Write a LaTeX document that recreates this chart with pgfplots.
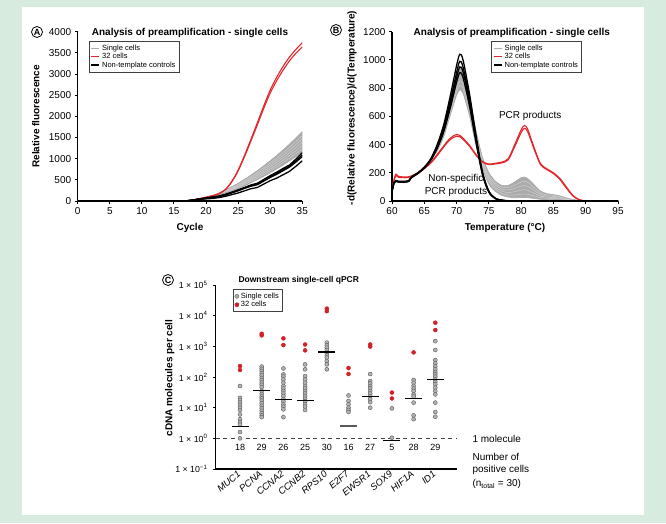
\documentclass[border=0pt]{standalone}
\usepackage{fontspec}
\setmainfont{Liberation Sans}
\usepackage{pgfplots}
\pgfplotsset{compat=1.18}
\usepackage{pgfplotstable}

\definecolor{bggreen}{HTML}{D8EBDF}
\definecolor{redline}{HTML}{E3262B}
\definecolor{reddot}{HTML}{D32027}
\definecolor{grayline}{HTML}{ABABAB}
\definecolor{graylite}{HTML}{D2D2D2}

\pgfplotstableread{
c g1 g2 g3 g4 g5 g6 g7 b1 b2 b3 b4 r1 r2
0 0 0 0 0 0 0 0 0 0 0 0 0 0
15 0 0 0 0 0 0 0 0 0 0 0 0 0
16 2 2 2 2 2 2 2 1 1 1 1 2 2
17 8 8 9 9 10 10 10 5 5 5 4 6 6
18 25 26 27 28 29 30 30 25 24 22 18 26 25
19 50 52 53 55 56 58 58 50 48 45 36 55 53
20 85 85 85 85 85 85 85 75 70 65 50 90 88
21 115 117 120 123 125 127 130 95 90 80 60 125 122
22 148 154 160 167 174 180 188 120 110 100 80 175 170
23 190 199 210 222 233 245 258 160 150 140 110 270 265
24 240 254 270 286 302 318 337 210 200 190 150 460 450
25 295 315 335 355 375 395 419 265 255 240 190 730 710
26 360 385 410 435 459 484 513 320 310 300 240 1080 1050
27 431 461 490 519 549 578 613 380 365 350 290 1460 1420
28 506 541 575 610 644 679 719 420 400 385 320 1850 1800
29 585 625 665 705 745 785 831 510 490 470 400 2250 2190
30 669 714 760 806 851 897 950 600 575 555 480 2620 2550
31 757 808 860 912 963 1015 1075 680 650 630 540 2920 2840
32 849 907 965 1023 1081 1139 1206 770 740 715 620 3180 3090
33 946 1011 1075 1140 1204 1269 1344 850 820 800 700 3400 3310
34 1047 1119 1190 1261 1333 1404 1488 990 950 920 820 3580 3490
35 1153 1231 1310 1389 1467 1546 1638 1140 1090 1050 950 3740 3640
}\tabA

\pgfplotstableread{
T g1 g2 g3 g4 g5 g6 b1 b2 b3 b4 r1 r2
60 70 70 70 70 70 70 70 68 66 64 90 85
60.3 130 130 130 130 130 130 130 128 126 124 150 140
60.6 142 142 142 142 142 142 145 143 141 139 190 180
61 138 138 138 138 138 138 140 138 136 134 175 168
62 138 138 138 138 138 138 140 138 136 134 170 165
62.6 143 143 143 143 143 143 145 143 141 139 172 167
63 167 167 167 167 167 167 170 168 166 164 178 173
64 197 197 197 197 197 197 200 198 196 194 200 195
65 237 237 237 237 237 237 240 238 236 234 235 228
66 292 292 292 292 292 292 300 295 292 288 275 268
67 385 378 372 366 360 354 400 390 382 372 330 322
68 505 495 485 475 465 455 540 520 505 488 390 382
69 680 665 650 635 620 605 740 705 680 655 445 435
70 880 850 825 800 775 750 960 910 875 840 472 460
70.5 950 910 880 850 820 790 1040 990 950 910 465 455
71 925 885 855 825 795 765 1000 950 915 875 445 436
72 740 705 680 655 630 605 760 730 700 672 395 388
73 500 475 455 435 415 395 470 450 435 418 330 325
74 310 295 280 265 250 235 210 200 195 188 280 276
75 200 185 170 155 140 120 70 68 65 62 262 258
76 140 128 115 100 85 68 20 18 18 17 268 263
77 110 98 85 70 55 40 6 5 5 5 276 270
78 110 95 78 60 42 28 2 1 1 1 300 292
79 135 112 90 66 42 23 0 0 0 0 400 385
80 165 135 106 77 48 25 0 0 0 0 505 485
80.5 170 140 110 80 50 25 0 0 0 0 535 515
81 160 133 104 76 48 24 0 0 0 0 510 492
82 115 95 76 56 36 18 0 0 0 0 380 368
83 70 58 46 35 24 12 0 0 0 0 265 258
84 52 44 36 28 20 10 0 0 0 0 228 222
85 45 40 33 25 18 9 0 0 0 0 200 194
86 36 32 26 20 14 7 0 0 0 0 160 152
87 22 20 16 12 9 4 0 0 0 0 100 92
88 11 10 8 6 4 2 0 0 0 0 40 36
89 4 4 3 2 1 0 0 0 0 0 10 8
90 1 1 1 0 0 0 0 0 0 0 2 1
92 0 0 0 0 0 0 0 0 0 0 0 0
95 0 0 0 0 0 0 0 0 0 0 0 0
}\tabB

\pgfplotsset{
  curvestyle/.style={
    scale only axis, anchor=south west, clip mode=individual,
    axis lines=left, axis line style={line width=1.5pt,-},
    tick align=outside, major tick length=3pt,
    tick style={line width=1pt,black},
    ticklabel style={font=\fontsize{10}{12}\selectfont},
    /pgf/number format/assume math mode=true,
    /pgf/number format/set thousands separator={},
    scaled ticks=false,
    legend style={draw=black!75, line width=0.6pt, fill=white,
      font=\fontsize{7.5}{8}\selectfont, inner sep=1.5pt,
      row sep=-2.5pt, cells={anchor=west}},
    legend image code/.code={\draw[#1] (0pt,0pt) -- (8pt,0pt);},
    label style={font=\bfseries\fontsize{10}{12}\selectfont},
  }
}

\begin{document}
\begin{tikzpicture}
\fill[bggreen] (0pt,0pt) rectangle (666pt,523pt);
\fill[white] (22pt,8pt) rectangle (644pt,516pt);

% ---------- Panel A ----------
\begin{axis}[curvestyle,
  at={(77.7pt,322pt)}, width=224.6pt, height=169.3pt,
  xmin=0, xmax=35, ymin=0, ymax=4000,
  xtick={0,5,...,35}, ytick={0,500,...,4000},
  xlabel={Cycle}, ylabel={Relative fluorescence},
  xlabel style={at={(axis description cs:0.5,-0.16)}, anchor=center},
  ylabel style={at={(axis description cs:-0.186,0.5)}, anchor=center},
  legend style={at={(rel axis cs:0.05,0.945)}, anchor=north west},
]
\addlegendimage{grayline, line width=1pt}
\addlegendentry{Single cells}
\addlegendimage{redline, line width=1.2pt}
\addlegendentry{32 cells}
\addlegendimage{black, line width=1.4pt}
\addlegendentry{Non-template controls}
% band spanned by the single-cell curves (upper curve g7 forward, lower curve g1 back)
\addplot[forget plot, fill=grayline, draw=none] coordinates {
(17,10)(18,30)(19,58)(20,85)(21,130)(22,188)(23,258)(24,337)(25,419)(26,513)(27,613)(28,719)(29,831)(30,950)(31,1075)(32,1206)(33,1344)(34,1488)(35,1638)
(35,1153)(34,1047)(33,946)(32,849)(31,757)(30,669)(29,585)(28,506)(27,431)(26,360)(25,295)(24,240)(23,190)(22,148)(21,115)(20,85)(19,50)(18,25)(17,8)
} -- cycle;
\pgfplotsinvokeforeach{2,...,6}{
  \addplot[forget plot, graylite, line width=0.45pt, smooth] table[x=c, y=g#1] {\tabA};
}
\addplot[forget plot, grayline, line width=0.7pt, smooth] table[x=c, y=g1] {\tabA};
\addplot[forget plot, grayline, line width=0.7pt, smooth] table[x=c, y=g7] {\tabA};
\pgfplotsinvokeforeach{1,2}{
  \addplot[forget plot, redline, line width=1.1pt, smooth] table[x=c, y=r#1] {\tabA};
}
\pgfplotsinvokeforeach{1,...,4}{
  \addplot[forget plot, black, line width=1.3pt] table[x=c, y=b#1] {\tabA};
}
\node[font=\bfseries\fontsize{10}{12}\selectfont] at (rel axis cs:0.5,0.99) {Analysis of preamplification - single cells};
\end{axis}

% ---------- Panel B ----------
\begin{axis}[curvestyle,
  at={(392pt,322pt)}, width=226pt, height=169.3pt,
  xmin=60, xmax=95, ymin=0, ymax=1200,
  xtick={60,65,...,95}, ytick={0,200,...,1200},
  xlabel={Temperature (°C)}, ylabel={-d(Relative fluorescence)/d(Temperature)},
  xlabel style={at={(axis description cs:0.5,-0.16)}, anchor=center},
  ylabel style={at={(axis description cs:-0.177,0.55)}, anchor=center},
  legend style={at={(rel axis cs:0.44,0.945)}, anchor=north west},
]
\addlegendimage{grayline, line width=1pt}
\addlegendentry{Single cells}
\addlegendimage{redline, line width=1.2pt}
\addlegendentry{32 cells}
\addlegendimage{black, line width=1.4pt}
\addlegendentry{Non-template controls}
\addplot[forget plot, fill=grayline, draw=none] coordinates {
(66,292)(67,385)(68,505)(69,680)(70,880)(70.5,950)(71,925)(72,740)(73,500)(74,310)(75,200)(76,140)(77,110)(78,110)(79,135)(80,165)(80.5,170)(81,160)(82,115)(83,70)(84,52)(85,45)(86,36)(87,22)(88,11)(89,4)(90,1)
(90,0)(89,0)(88,2)(87,4)(86,7)(85,9)(84,10)(83,12)(82,18)(81,24)(80.5,25)(80,25)(79,23)(78,28)(77,40)(76,68)(75,120)(74,235)(73,395)(72,605)(71,765)(70.5,790)(70,750)(69,605)(68,455)(67,354)(66,292)
} -- cycle;
\pgfplotsinvokeforeach{2,...,5}{
  \addplot[forget plot, graylite, line width=0.45pt, smooth] table[x=T, y=g#1] {\tabB};
}
\addplot[forget plot, grayline, line width=0.7pt, smooth] table[x=T, y=g1] {\tabB};
\addplot[forget plot, grayline, line width=0.7pt, smooth] table[x=T, y=g6] {\tabB};
\pgfplotsinvokeforeach{1,2}{
  \addplot[forget plot, redline, line width=1.1pt, smooth] table[x=T, y=r#1] {\tabB};
}
\pgfplotsinvokeforeach{1,...,4}{
  \addplot[forget plot, black, line width=1.3pt, smooth] table[x=T, y=b#1] {\tabB};
}
\node[font=\bfseries\fontsize{10}{12}\selectfont] at (rel axis cs:0.53,0.99) {Analysis of preamplification - single cells};
\node[font=\fontsize{10}{12}\selectfont] at (axis cs:81.4,602) {PCR products};
\node[font=\fontsize{10}{12.5}\selectfont, align=center] at (axis cs:69.9,110) {Non-specific\\PCR products};
\end{axis}

% ---------- Panel C ----------
\begin{axis}[
  scale only axis, anchor=south west,
  at={(215.7pt,54pt)}, width=241.3pt, height=184pt,
  ymode=log, ymin=0.1, ymax=1e5, xmin=-1.12, xmax=10,
  axis lines=left, axis line style={line width=1.5pt,-},
  tick align=outside, major tick length=3pt,
  tick style={line width=1pt,black},
  ytick={0.1,1,10,100,1000,10000,100000},
  yticklabels={1 × 10\textsuperscript{−1},1 × 10\textsuperscript{0},1 × 10\textsuperscript{1},1 × 10\textsuperscript{2},1 × 10\textsuperscript{3},1 × 10\textsuperscript{4},1 × 10\textsuperscript{5}},
  yminorticks=false,
  xtick={0,...,9},
  xticklabels={MUC1,PCNA,CCNA2,CCNB2,RPS10,E2F7,EWSR1,SOX9,HIF1A,ID1},
  x tick style={draw=none},
  xticklabel style={rotate=40, anchor=east, font=\itshape\fontsize{9.5}{11}\selectfont, inner sep=1pt},
  yticklabel style={font=\fontsize{8.8}{10}\selectfont, inner sep=2pt, xshift=-3pt},
  ylabel={cDNA molecules per cell},
  ylabel style={at={(axis description cs:-0.19,0.495)}, anchor=center, font=\bfseries\fontsize{10}{12}\selectfont},
  legend style={at={(rel axis cs:0.072,0.978)}, anchor=north west, draw=black!75, line width=0.6pt,
    font=\fontsize{7.5}{8}\selectfont, inner sep=1.5pt, row sep=-2.5pt, cells={anchor=west}},
  clip=false,
]
\addplot[black!75, line width=1.3pt, dash pattern=on 4pt off 3.5pt, forget plot] coordinates {(-1.12,1) (10,1)};
\addplot[only marks, mark=*, mark size=2pt, mark options={fill=gray!60, draw=gray!70!black, line width=0.4pt}] coordinates {
(0,51)(0,21)(0,17.8)(0,14.6)(0,12.2)(0,10)(0,8.4)(0,6)(0,4.2)(0,3.4)(0,2.8)(0,1.6)(0,1.0)
(1,219)(1,186)(1,158)(1,132)(1,112)(1,93)(1,79)(1,66)(1,56)(1,47)(1,35)(1,28)(1,23)(1,20)(1,17)(1,14)(1,11.5)(1,9.5)(1,7.9)(1,6.6)(1,5.6)(1,4.9)
(2,190)(2,122)(2,103)(2,83)(2,65)(2,51)(2,42)(2,35)(2,29)(2,24)(2,19)(2,15.8)(2,12.8)(2,10.8)(2,8.8)(2,4.9)
(3,258)(3,178)(3,107)(3,83)(3,65)(3,51)(3,42)(3,35)(3,29)(3,24)(3,19.6)(3,16)(3,13)(3,10.8)(3,8.4)
(4,1320)(4,1080)(4,910)(4,760)(4,620)(4,510)(4,430)(4,330)(4,258)(4,178)
(5,25)(5,16.5)(5,12.8)(5,10)(5,8.4)(5,7.2)
(6,125)(6,74)(6,62)(6,51)(6,43)(6,35)(6,29)(6,24)(6,19)(6,15.2)(6,10)
(7,9.5)(7,1.05)
(8,80)(8,65)(8,51)(8,42)(8,35)(8,27)(8,23)(8,14.6)(8,5.6)(8,4.2)
(9,1480)(9,760)(9,355)(9,280)(9,219)(9,178)(9,145)(9,122)(9,103)(9,83)(9,69)(9,58)(9,45)(9,35)(9,27)(9,14.6)(9,7.2)(9,5.1)
};
\addlegendentry{Single cells}
\addplot[only marks, mark=*, mark size=2pt, mark options={fill=reddot, draw=reddot}] coordinates {
(0,228)(0,169)(1,2570)(1,2280)(2,1820)(2,1100)(3,1150)(3,740)(4,17000)(4,14000)
(5,196)(5,125)(6,1150)(6,980)(7,31)(7,20)(8,634)(9,5900)(9,3400)
};
\addlegendentry{32 cells}
\addplot[forget plot, only marks, mark=-, mark size=8.5pt, mark options={line width=1.4pt, black}] coordinates {
(0,2.4)(1,37)(2,18.7)(3,17.4)(4,650)(6,23)(7,0.86)(8,19.6)(9,84)};
\addplot[forget plot, only marks, mark=-, mark size=8.5pt, mark options={line width=1.4pt, black!65}] coordinates {(5,2.5)};
\node[font=\bfseries\fontsize{8.5}{10}\selectfont, anchor=west] at (rel axis cs:0.08,1.027) {Downstream single-cell qPCR};
\node[font=\fontsize{9}{11}\selectfont] at (axis cs:0,0.5) {18};
\node[font=\fontsize{9}{11}\selectfont] at (axis cs:1,0.5) {29};
\node[font=\fontsize{9}{11}\selectfont] at (axis cs:2,0.5) {26};
\node[font=\fontsize{9}{11}\selectfont] at (axis cs:3,0.5) {25};
\node[font=\fontsize{9}{11}\selectfont] at (axis cs:4,0.5) {30};
\node[font=\fontsize{9}{11}\selectfont] at (axis cs:5,0.5) {16};
\node[font=\fontsize{9}{11}\selectfont] at (axis cs:6,0.5) {27};
\node[font=\fontsize{9}{11}\selectfont] at (axis cs:7,0.5) {5};
\node[font=\fontsize{9}{11}\selectfont] at (axis cs:8,0.5) {28};
\node[font=\fontsize{9}{11}\selectfont] at (axis cs:9,0.5) {29};
\end{axis}

% notes right of panel C
\node[anchor=west, font=\fontsize{10}{12}\selectfont] at (469pt,84pt) {1 molecule};
\node[anchor=west, font=\fontsize{10}{12}\selectfont] at (469pt,66pt) {Number of};
\node[anchor=west, font=\fontsize{10}{12}\selectfont] at (469pt,53pt) {positive cells};
\node[anchor=west, font=\fontsize{10}{12}\selectfont] at (469pt,39pt) {(n\textsubscript{total} = 30)};

% panel letters
\node[circle, draw, line width=0.8pt, inner sep=0pt, minimum size=11pt, font=\bfseries\fontsize{9}{9}\selectfont] at (37pt,491pt) {A};
\node[circle, draw, line width=0.8pt, inner sep=0pt, minimum size=11pt, font=\bfseries\fontsize{9}{9}\selectfont] at (336pt,493pt) {B};
\node[circle, draw, line width=0.8pt, inner sep=0pt, minimum size=11pt, font=\bfseries\fontsize{9}{9}\selectfont] at (168pt,243pt) {C};
\end{tikzpicture}
\end{document}
